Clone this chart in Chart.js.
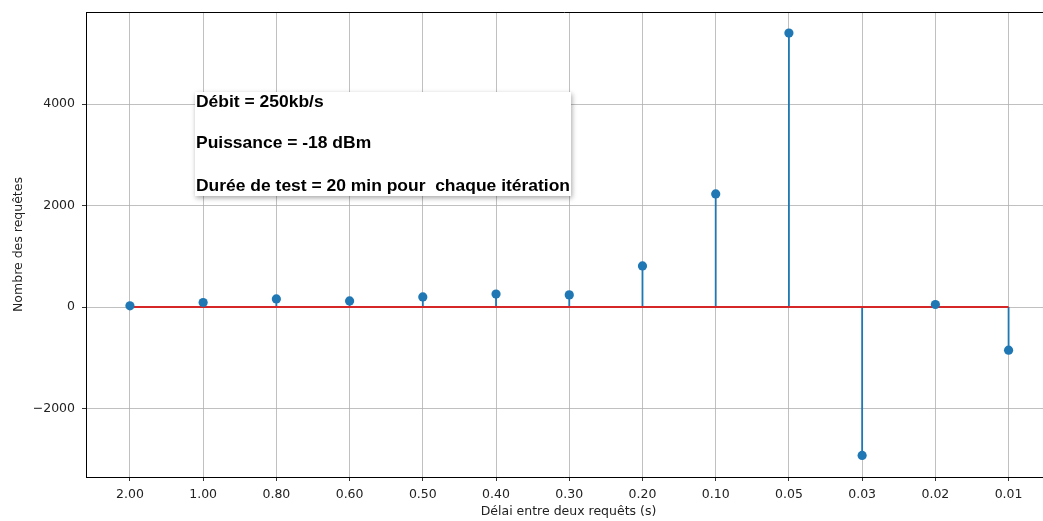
<!DOCTYPE html>
<html>
<head>
<meta charset="utf-8">
<script src="https://cdn.jsdelivr.net/npm/chart.js@4/dist/chart.umd.min.js"></script>
<style>
html,body{margin:0;padding:0;background:#fff;}
#wrap{width:1043px;height:521px;}
</style>
</head>
<body>
<div id="wrap"><canvas id="c" width="1043" height="521"></canvas></div>
<script>
const categories = ['2.00','1.00','0.80','0.60','0.50','0.40','0.30','0.20','0.10','0.05','0.03','0.02','0.01'];
const requests = [25, 90, 160, 120, 200, 255, 240, 810, 2230, 5400, -2925, 50, -850];
const yTicks = [-2000, 0, 2000, 4000];
const annotationLines = ['Débit = 250kb/s', 'Puissance = -18 dBm', 'Durée de test = 20 min pour  chaque itération'];
const xTitle = 'Délai entre deux requêts (s)';
const yTitle = 'Nombre des requêtes';

const BLUE = '#1f77b4';
const RED = '#d62728';
const FONT = "'DejaVu Sans', sans-serif";

const stemData = [];
requests.forEach((v, i) => {
  stemData.push({x: i, y: 0});
  stemData.push({x: i, y: v});
  stemData.push({x: i, y: null});
});
const markerData = requests.map((v, i) => ({x: i, y: v}));
const baseData = [{x: 0, y: 0}, {x: categories.length - 1, y: 0}];

const framePlugin = {
  id: 'frame',
  afterDraw(chart) {
    const {ctx, chartArea: a} = chart;
    ctx.save();
    ctx.strokeStyle = '#000';
    ctx.lineWidth = 1;
    ctx.beginPath();
    ctx.moveTo(a.left, a.top + 0.5);
    ctx.lineTo(a.right, a.top + 0.5);
    ctx.stroke();
    // x axis title (matplotlib centres it on the full axes, which run past the crop)
    ctx.fillStyle = '#222';
    ctx.font = "12.5px 'DejaVu Sans', sans-serif";
    ctx.textAlign = 'center';
    ctx.textBaseline = 'middle';
    ctx.fillText(xTitle, 568.5, 512);
    const bx = 195, by = 92, bw = 376, bh = 104;
    ctx.shadowColor = 'rgba(0,0,0,0.35)';
    ctx.shadowBlur = 5;
    ctx.shadowOffsetX = 1;
    ctx.shadowOffsetY = 2;
    ctx.fillStyle = '#fff';
    ctx.fillRect(bx, by, bw, bh);
    ctx.shadowColor = 'transparent';
    ctx.fillStyle = '#000';
    ctx.font = "bold 16.5px 'Liberation Sans', Arial, sans-serif";
    ctx.textBaseline = 'middle';
    ctx.textAlign = 'left';
    const longest = Math.max(...annotationLines.map(t => ctx.measureText(t).width));
    const sx = 374 / longest;
    const ys = [102, 143.5, 186];
    annotationLines.forEach((t, i) => {
      ctx.save();
      ctx.translate(196, ys[i]);
      ctx.scale(sx, 1);
      ctx.fillText(t, 0, 0);
      ctx.restore();
    });
    ctx.restore();
  }
};

new Chart(document.getElementById('c'), {
  type: 'scatter',
  data: {
    datasets: [
      {
        type: 'line', data: stemData, borderColor: BLUE, borderWidth: 1.8,
        pointRadius: 0, spanGaps: false, fill: false, order: 3, tension: 0
      },
      {
        type: 'line', data: baseData, borderColor: RED, borderWidth: 2,
        pointRadius: 0, fill: false, order: 2, tension: 0
      },
      {
        type: 'scatter', data: markerData, backgroundColor: BLUE, borderColor: BLUE,
        pointRadius: 4.6, borderWidth: 0, order: 1
      }
    ]
  },
  options: {
    responsive: false,
    animation: false,
    layout: {autoPadding: false, padding: {top: 12, right: 0, left: 0, bottom: 0}},
    plugins: {legend: {display: false}, tooltip: {enabled: false}},
    scales: {
      x: {
        type: 'linear', min: -0.6, max: 12.47,
        afterBuildTicks(s) { s.ticks = categories.map((_, i) => ({value: i})); },
        afterFit(s) { s.height = 44; s.paddingRight = 0; s.paddingLeft = 0; },
        ticks: {
          callback: (v) => categories[v], color: '#222', padding: 6,
          font: {family: FONT, size: 12.5}, maxRotation: 0, autoSkip: false
        },
        grid: {color: '#b0b0b0', lineWidth: 0.8, tickColor: '#000', tickLength: 4},
        border: {display: true, color: '#000', width: 1},
        title: {display: false}
      },
      y: {
        type: 'linear', min: -3350, max: 5816,
        afterBuildTicks(s) { s.ticks = yTicks.map(v => ({value: v})); },
        afterFit(s) { s.width = 86; s.paddingTop = 0; s.paddingBottom = 0; },
        ticks: {
          callback: (v) => v < 0 ? '\u2212' + Math.abs(v) : String(v), color: '#222', padding: 7,
          font: {family: FONT, size: 12.5}
        },
        grid: {color: '#b0b0b0', lineWidth: 0.8, tickColor: '#000', tickLength: 4},
        border: {display: true, color: '#000', width: 1},
        title: {display: true, text: yTitle, color: '#222', font: {family: FONT, size: 12.5}, padding: {top: 11, bottom: 0}}
      }
    }
  },
  plugins: [framePlugin]
});
</script>
</body>
</html>
